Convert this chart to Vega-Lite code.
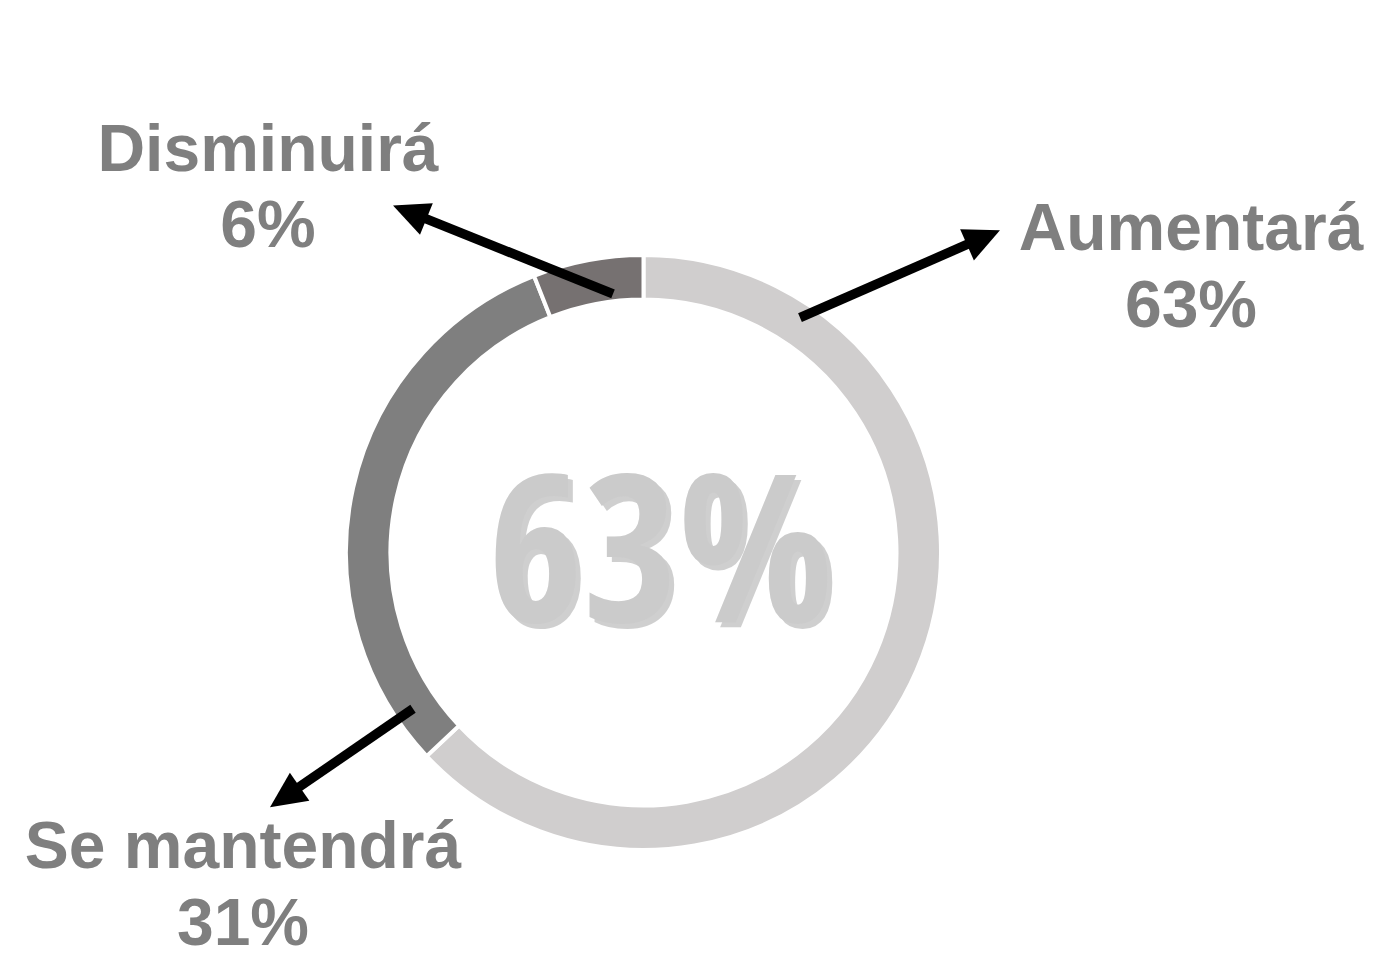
{
  "$schema": "https://vega.github.io/schema/vega-lite/v6.json",
  "width": 1377,
  "height": 958,
  "autosize": {"type": "fit", "contains": "padding"},
  "padding": 0,
  "background": "white",
  "config": {"view": {"stroke": null}},
  "datasets": {
    "segments": [
      {"cat": "Aumentará", "pct": 63, "ord": 1, "cx": 643.5, "cy": 556.5},
      {"cat": "Se mantendrá", "pct": 31, "ord": 2, "cx": 643.5, "cy": 556.5},
      {"cat": "Disminuirá", "pct": 6, "ord": 3, "cx": 643.5, "cy": 556.5}
    ],
    "labels": [
      {"text": "Disminuirá", "x": 268, "y": 172},
      {"text": "6%", "x": 268, "y": 249},
      {"text": "Aumentará", "x": 1191, "y": 252},
      {"text": "63%", "x": 1191, "y": 329},
      {"text": "Se mantendrá", "x": 243, "y": 874},
      {"text": "31%", "x": 243, "y": 952}
    ],
    "arrows": [
      {"cat": "Aumentará", "x": 800, "y": 320, "x2": 970, "y2": 245},
      {"cat": "Disminuirá", "x": 613, "y": 296, "x2": 420, "y2": 218},
      {"cat": "Se mantendrá", "x": 413, "y": 714, "x2": 296, "y2": 795}
    ],
    "heads": [
      {"cat": "Aumentará", "x": 983.5, "y": 239.3, "ang": 336.25},
      {"cat": "Disminuirá", "x": 409.7, "y": 213.8, "ang": 202.0},
      {"cat": "Se mantendrá", "x": 284.8, "y": 802.8, "ang": 145.3}
    ],
    "center": [
      {"text": "63%", "x": 661, "y": 627}
    ]
  },
  "layer": [
    {
      "data": {"name": "segments"},
      "mark": {"type": "arc", "outerRadius": 297.5, "innerRadius": 253, "stroke": "white", "strokeWidth": 4},
      "encoding": {
        "x": {"field": "cx", "type": "quantitative", "scale": {"domain": [0, 1377], "nice": false, "zero": false}, "axis": null},
        "y": {"field": "cy", "type": "quantitative", "scale": {"domain": [0, 958], "nice": false, "zero": false, "reverse": true}, "axis": null},
        "theta": {"field": "pct", "type": "quantitative", "stack": true},
        "order": {"field": "ord", "type": "quantitative"},
        "color": {"field": "cat", "type": "nominal", "legend": null, "scale": {"domain": ["Aumentará", "Se mantendrá", "Disminuirá"], "range": ["#d0cece", "#7f7f7f", "#767171"]}}
      }
    },
    {
      "data": {"name": "center"},
      "mark": {"type": "text", "font": "Noto Sans ExtraCondensed, Noto Sans Condensed, Open Sans Condensed, Roboto Condensed, Liberation Sans Narrow, Roboto", "fontWeight": "bold", "fontSize": 205, "align": "center", "baseline": "alphabetic", "color": "#8a8a8a", "opacity": 0.4, "dx": 5, "dy": 5},
      "encoding": {
        "x": {"field": "x", "type": "quantitative"},
        "y": {"field": "y", "type": "quantitative"},
        "text": {"field": "text"}
      }
    },
    {
      "data": {"name": "center"},
      "mark": {"type": "text", "font": "Noto Sans ExtraCondensed, Noto Sans Condensed, Open Sans Condensed, Roboto Condensed, Liberation Sans Narrow, Roboto", "fontWeight": "bold", "fontSize": 205, "align": "center", "baseline": "alphabetic", "color": "#cbcbcb"},
      "encoding": {
        "x": {"field": "x", "type": "quantitative"},
        "y": {"field": "y", "type": "quantitative"},
        "text": {"field": "text"}
      }
    },
    {
      "data": {"name": "arrows"},
      "mark": {"type": "rule", "color": "black", "strokeWidth": 9.5, "strokeCap": "butt"},
      "encoding": {
        "x": {"field": "x", "type": "quantitative"},
        "y": {"field": "y", "type": "quantitative"},
        "x2": {"field": "x2"},
        "y2": {"field": "y2"}
      }
    },
    {
      "data": {"name": "heads"},
      "mark": {"type": "point", "shape": "M 1 0 L -1 0.95 L -1 -0.95 Z", "filled": true, "color": "black", "opacity": 1, "size": 1296, "strokeWidth": 0},
      "encoding": {
        "x": {"field": "x", "type": "quantitative"},
        "y": {"field": "y", "type": "quantitative"},
        "angle": {"field": "ang", "type": "quantitative", "scale": null}
      }
    },
    {
      "data": {"name": "labels"},
      "mark": {"type": "text", "font": "Liberation Sans, Arial", "fontWeight": "bold", "fontSize": 66, "align": "center", "baseline": "alphabetic", "color": "#7f7f7f"},
      "encoding": {
        "x": {"field": "x", "type": "quantitative"},
        "y": {"field": "y", "type": "quantitative"},
        "text": {"field": "text"}
      }
    }
  ]
}
